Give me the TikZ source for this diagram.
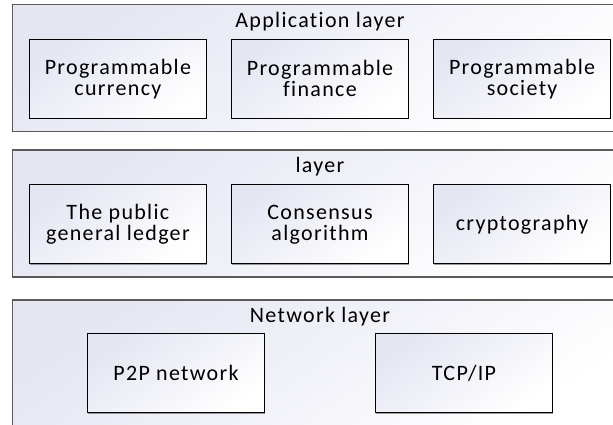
\documentclass[tikz,border=0pt]{standalone}
\usepackage{fontspec}
\setmainfont[LetterSpace=6,RawFeature={-liga;-clig;-dlig;-calt}]{Carlito}
\usepackage{tikz}
\usetikzlibrary{positioning,shadows}
\definecolor{lavfill}{HTML}{E4E6F2}
\definecolor{layerline}{HTML}{5A5A5A}
\tikzset{layer box/.style={draw=layerline,line width=1.3pt,minimum width=615pt,minimum height=127pt,inner sep=0pt,top color=lavfill,bottom color=white,shading angle=35},
  layer title/.style={inner sep=0pt,font=\fontsize{22}{21}\selectfont},
  unit box/.style={draw=black,line width=1.1pt,minimum width=177pt,minimum height=79pt,inner sep=2pt,align=center,font=\fontsize{22}{21}\selectfont,top color=lavfill,bottom color=white,shading angle=35,drop shadow={shadow xshift=.8pt,shadow yshift=-.8pt,fill=black!55,opacity=.7}},}

\begin{document}
\begin{tikzpicture}[x=1pt,y=1pt]
    \useasboundingbox (0,0) rectangle (613,425);
    \fill[white] (0,0) rectangle (613,425);

    % application layer
    \node[layer box] (app) at (320,357) {};
    \node[layer title] (apptitle) [below=8pt of app.north] {Application layer};
    \node[unit box] (fin) [below=35pt of app.north] {Programmable\\finance};
    \node[unit box] (cur) [left=24pt of fin] {Programmable\\currency};
    \node[unit box] (soc) [right=24pt of fin] {Programmable\\society};

    % middle layer
    \node[layer box] (mid) at (320,211.5) {};
    \node[layer title] (midtitle) [below=8pt of mid.north] {layer};
    \node[unit box] (con) [below=35pt of mid.north] {Consensus\\algorithm};
    \node[unit box] (led) [left=24pt of con] {The public\\general ledger};
    \node[unit box] (cry) [right=24pt of con] {cryptography};

    % network layer
    \node[layer box] (net) at (320,61.5) {};
    \node[layer title] (nettitle) [below=8pt of net.north] {Network layer};
    \node[unit box] (p2p) [below=34pt of net.north, xshift=-144pt] {P2P network};
    \node[unit box] (tcp) [below=34pt of net.north, xshift=144pt] {TCP/IP};
\end{tikzpicture}
\end{document}
